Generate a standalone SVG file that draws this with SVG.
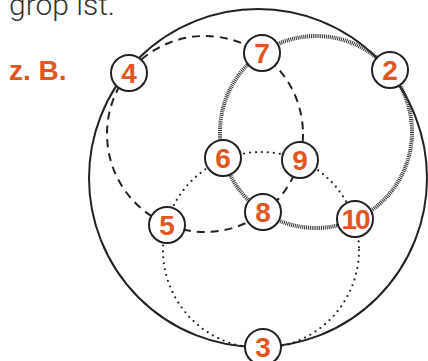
<svg xmlns="http://www.w3.org/2000/svg" width="428" height="361" viewBox="0 0 428 361">
<style>
.ring{fill:none;stroke:#222;stroke-width:2}
.dash{fill:none;stroke:#222;stroke-width:2;stroke-dasharray:8 6}
.dot{fill:none;stroke:#222;stroke-width:2.2;stroke-linecap:round;stroke-dasharray:0 6}
.hatch{fill:none;stroke:#333;stroke-width:4;stroke-dasharray:1 0.9}
.node circle{fill:#fff;stroke:#222;stroke-width:2}
.node text{font-family:"Liberation Sans",Arial,sans-serif;font-weight:bold;font-size:28px;fill:#e0561f;text-anchor:middle}
</style>
<rect width="428" height="361" fill="#fff"/>
<text x="9" y="15" font-family="Roboto,'Liberation Sans',sans-serif" font-weight="300" font-size="30" fill="#333">grop ist.</text>
<text x="9" y="80" font-family="'Liberation Sans',Arial,sans-serif" font-weight="bold" font-size="28" fill="#e0561f">z. B.</text>
<g id="connectors">
<circle class="ring" cx="258" cy="178" r="169"/>
<circle class="dash" cx="205" cy="134" r="98"/>
<circle class="hatch" cx="316" cy="132" r="96"/>
<circle class="dot" cx="261" cy="250" r="98"/>
</g>
<g id="n4" class="node"><circle cx="129" cy="73" r="18"/><text x="129" y="83">4</text></g>
<g id="n7" class="node"><circle cx="262" cy="53" r="18"/><text x="262" y="63">7</text></g>
<g id="n2" class="node"><circle cx="390" cy="70" r="18"/><text x="390" y="80">2</text></g>
<g id="n6" class="node"><circle cx="223" cy="158" r="18"/><text x="223" y="168">6</text></g>
<g id="n9" class="node"><circle cx="300" cy="160" r="18"/><text x="300" y="170">9</text></g>
<g id="n8" class="node"><circle cx="263" cy="212" r="18"/><text x="263" y="222">8</text></g>
<g id="n5" class="node"><circle cx="167" cy="225" r="18"/><text x="167" y="235">5</text></g>
<g id="n10" class="node"><circle cx="355" cy="219" r="18"/><text x="355" y="229" letter-spacing="-2">10</text></g>
<g id="n3" class="node"><circle cx="263" cy="347" r="18"/><text x="263" y="357">3</text></g>
</svg>
